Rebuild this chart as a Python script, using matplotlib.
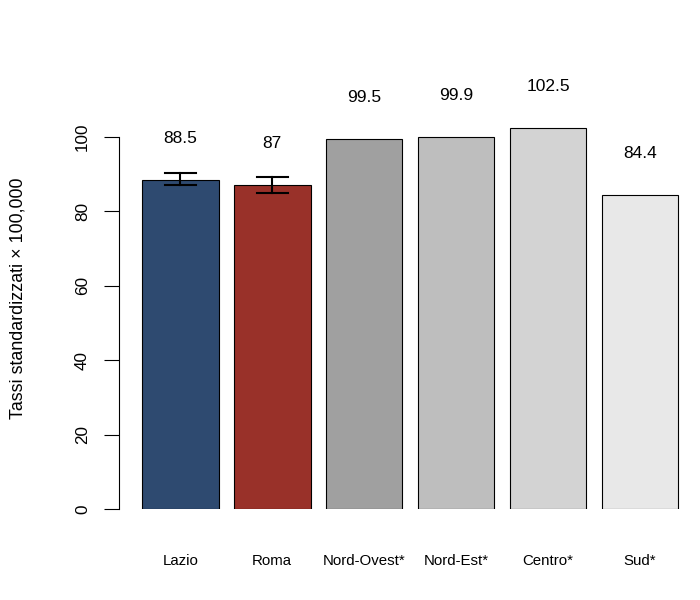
import matplotlib
matplotlib.use("Agg")
import matplotlib.pyplot as plt

categories = ["Lazio", "Roma", "Nord-Ovest*", "Nord-Est*", "Centro*", "Sud*"]
values = [88.5, 87.0, 99.5, 99.9, 102.5, 84.4]
value_labels = ["88.5", "87", "99.5", "99.9", "102.5", "84.4"]
err_low = [87.1, 84.9, None, None, None, None]
err_high = [90.2, 89.2, None, None, None, None]
colors = ["#2E4A70", "#993129", "#A0A0A0", "#BEBEBE", "#D3D3D3", "#E8E8E8"]
yticks = [0, 20, 40, 60, 80, 100]

plt.rcParams['font.family'] = ['Liberation Sans', 'DejaVu Sans']

fig = plt.figure(figsize=(7, 6), dpi=100)
ppu = 3.72
ax = fig.add_axes([119/700, (600-509)/600, 571/700, 120*ppu/600])
x0 = 126.7
unit = 76.6
ax.set_xlim((119-x0)/unit, (690-x0)/unit)
ax.set_ylim(0, 120)

xs = [0.7 + 1.2*i for i in range(len(categories))]
ax.bar(xs, values, width=1.0, color=colors, edgecolor="black", linewidth=0.8)

for x, lo, hi in zip(xs, err_low, err_high):
    if lo is None:
        continue
    ax.plot([x, x], [lo, hi], color="black", lw=1.5)
    ax.plot([x-0.2, x+0.2], [lo, lo], color="black", lw=1.5)
    ax.plot([x-0.2, x+0.2], [hi, hi], color="black", lw=1.5)

for x, v, t in zip(xs, values, value_labels):
    ax.text(x, v + 11.2, t, ha="center", va="center", fontsize=12.5)

for s in ["top", "right", "bottom"]:
    ax.spines[s].set_visible(False)
ax.spines["left"].set_bounds(0, 100)
ax.spines["left"].set_linewidth(0.8)
ax.set_yticks(yticks)
ax.set_yticklabels([str(t) for t in yticks], rotation=90, va="center", fontsize=12.3)
ax.tick_params(axis="y", length=10.8, width=0.8, pad=10)
ax.set_xticks(xs)
ax.set_xticklabels(categories, fontsize=10.8)
ax.tick_params(axis="x", length=0, pad=32.5)

fig.text(18/700, (600-298)/600, "Tassi standardizzati × 100,000", rotation=90,
         ha="center", va="center", fontsize=12.9)

fig.savefig("out.png", dpi=100)
